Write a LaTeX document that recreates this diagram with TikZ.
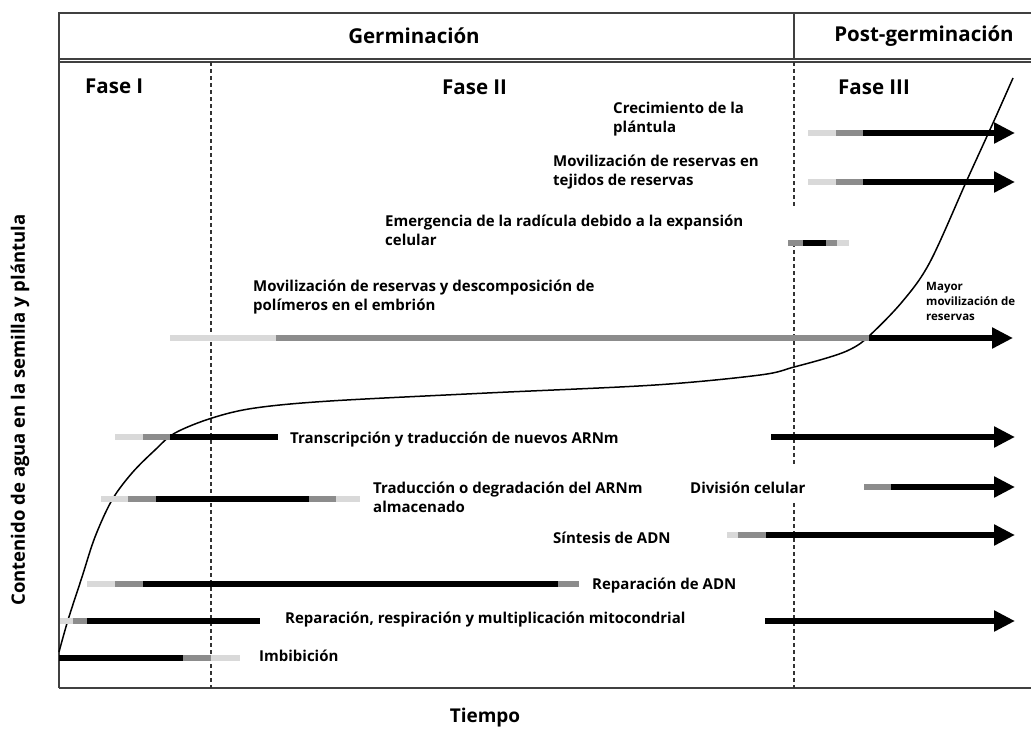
\documentclass[tikz,border=0pt]{standalone}
\usepackage{fontspec}
\setmainfont{Open Sans}
\usetikzlibrary{arrows.meta}

\begin{document}
\begin{tikzpicture}[x=1pt,y=-1pt,
    frame/.style={line width=1.5pt,black!75},
    phase/.style={dash pattern=on 4pt off 3pt,line width=1.2pt,black!80},
    barlite/.style={line width=6pt,black!15},
    barmid/.style={line width=6pt,black!45},
    bardark/.style={line width=6pt,black},
    bararrow/.style={bardark,-{Triangle[length=21pt,width=20pt]}},
    lbl/.style={anchor=west,inner sep=0pt,font=\fontsize{15}{19}\selectfont\bfseries,align=left},
    head/.style={inner sep=0pt,font=\fontsize{20.5}{24}\selectfont\bfseries}]

	\useasboundingbox (0,0) rectangle (1031,729);

	% frame and header
	\draw[frame] (59,688) -- (59,13) -- (1031,13); \draw[frame] (59,59)
        -- (1031,59); \draw[frame] (59,62) -- (1031,62); \draw[frame]
        (794,13) -- (794,59); \draw[frame] (59,688) -- (1031,688);

	\node[head] (germ) at (414,36) {Germinación};
	\node[head] (postgerm) at (924,36) {Post-germinación};

	\node[head,anchor=west] (faseI) at (85,86) {Fase I};
	\node[head,anchor=west] (faseII) at (442,87) {Fase II};
	\node[head,anchor=west] (faseIII) at (838,87) {Fase III};

	% phase limits
	\draw[phase] (211,62) -- (211,688);
	\draw[phase] (794,62) -- (794,207); \draw[phase] (794,243) --
        (794,465); \draw[phase] (794,503) -- (794,688);

	% water content
	\draw[line width=1.5pt] plot[smooth,tension=0.55] coordinates {(59,652)
        (68,620) (82,577) (95,537) (112,500) (132,473) (155,450)
        (175,433) (212,418) (255,408) (330,401) (487,393) (655,385)
        (760,375) (794,367) (830,357) (851,349) (868,337) (902,302)
        (930,262) (967,180) (993,123) (1013,78)};

	% Imbibicion
	\draw[bardark] (59,658) -- (183,658); \draw[barmid] (183,658) --
        (211,658); \draw[barlite] (211,658) -- (240,658);
	\node[lbl] (imb) at (259,656) {Imbibición};

	% mitocondrias
	\draw[barlite] (60,621) -- (73,621); \draw[barmid] (73,621) --
        (87,621); \draw[bardark] (87,621) -- (260,621);
	\draw[bararrow] (765,621) -- (1015,621);
	\node[lbl] (mito) at (285,620) {Reparación, respiración y multiplicación mitocondrial};

	% reparacion ADN
	\draw[barlite] (87,584) -- (115,584); \draw[barmid] (115,584) --
        (143,584); \draw[bardark] (143,584) -- (558,584); \draw[barmid]
        (558,584) -- (579,584);
	\node[lbl] (repadn) at (592,586) {Reparación de ADN};

	% sintesis ADN
	\draw[barlite] (727,535) -- (738,535); \draw[barmid] (738,535) --
        (766,535); \draw[bararrow] (766,535) -- (1015,535);
	\node[lbl] (sintadn) at (553,538) {Síntesis de ADN};

	% ARNm almacenado
	\draw[barlite] (101,499) -- (128,499); \draw[barmid] (128,499) --
        (156,499); \draw[bardark] (156,499) -- (309,499); \draw[barmid]
        (309,499) -- (336,499); \draw[barlite] (336,499) -- (360,499);
	\node[lbl] (arnalm) at (373,497) {Traducción o degradación del ARNm\\almacenado};

	% division celular
	\draw[barmid] (864,487) -- (891,487); \draw[bararrow] (891,487) --
        (1015,487);
	\node[lbl] (divcel) at (690,488) {División celular};

	% nuevos ARNm
	\draw[barlite] (115,437) -- (143,437); \draw[barmid] (143,437) --
        (170,437); \draw[bardark] (170,437) -- (278,437);
	\draw[bararrow] (771,437) -- (1015,437);
	\node[lbl] (arnnew) at (290,440) {Transcripción y traducción de nuevos ARNm};

	% reservas embrion
	\draw[barlite] (170,338) -- (276,338); \draw[barmid] (276,338) --
        (869,338); \draw[bararrow] (869,338) -- (1013,338);
	\node[lbl] (resemb) at (253,297) {Movilización de reservas y descomposición de\\polímeros en el embrión};
	\node[lbl,font=\fontsize{11.5}{15}\selectfont\bfseries] (mayor) at (926,301) {Mayor\\movilización de\\reservas};

	% radicula
	\draw[barmid] (788,243) -- (803,243); \draw[bardark] (803,243) --
        (826,243); \draw[barmid] (826,243) -- (837,243); \draw[barlite]
        (837,243) -- (849,243);
	\node[lbl] (radic) at (385,230) {Emergencia de la radícula debido a la expansión\\celular};

	% tejidos de reserva
	\draw[barlite] (808,182) -- (836,182); \draw[barmid] (836,182) --
        (863,182); \draw[bararrow] (863,182) -- (1015,182);
	\node[lbl] (restej) at (553,172) {Movilización de reservas en\\tejidos de reservas};

	% plantula
	\draw[barlite] (808,133) -- (836,133); \draw[barmid] (836,133) --
        (863,133); \draw[bararrow] (863,133) -- (1015,133);
	\node[lbl] (creci) at (613,119) {Crecimiento de la\\plántula};

	% axes
	\node[head,font=\fontsize{19}{22}\selectfont\bfseries] (tiempo) at (485,718) {Tiempo};
	\node[head,rotate=90,font=\fontsize{18.5}{22}\selectfont\bfseries] (agua) at (20,410) {Contenido de agua en la semilla y plántula};
      \end{tikzpicture}
\end{document}
